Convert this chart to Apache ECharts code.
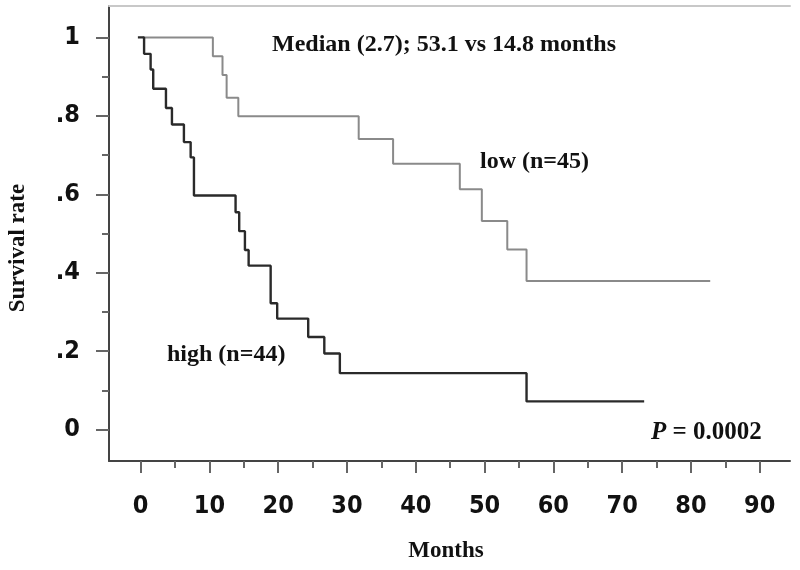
<!DOCTYPE html>
<html>
<head>
<meta charset="utf-8">
<script src="https://cdn.jsdelivr.net/npm/echarts@6/dist/echarts.min.js"></script>
<style>
html,body{margin:0;padding:0;background:#fff;}
#chart{width:800px;height:570px;}
</style>
</head>
<body>
<div id="chart"></div>
<script>
// Kaplan-Meier data (months, survival probability)
const lowTimes = [0.3, 10.5, 11.9, 12.5, 14.2, 31.7, 36.7, 46.4, 49.6, 53.3, 56.1, 82.8];
const lowSurv  = [1.0, 0.952, 0.904, 0.846, 0.799, 0.741, 0.678, 0.613, 0.532, 0.459, 0.379, 0.379];
const highTimes = [-0.4, 0.5, 1.45, 1.83, 3.68, 4.55, 6.29, 7.27, 7.75, 13.8, 14.33, 15.16, 15.7, 18.9, 19.85, 24.36, 26.7, 28.96, 56.1, 73.2];
const highSurv  = [1.0, 0.958, 0.918, 0.869, 0.82, 0.778, 0.733, 0.694, 0.597, 0.554, 0.506, 0.458, 0.418, 0.322, 0.283, 0.236, 0.194, 0.144, 0.072, 0.072];

const xMajorTicks = [0, 10, 20, 30, 40, 50, 60, 70, 80, 90];
const xMinorTicks = [5, 15, 25, 35, 45, 55, 65, 75, 85];
const yMajorTicks = [0, 0.2, 0.4, 0.6, 0.8, 1];
const yMinorTicks = [0.1, 0.3, 0.5, 0.7, 0.9];
const yTickLabels = ['0', '.2', '.4', '.6', '.8', '1'];

const labels = {
  median: 'Median (2.7); 53.1 vs 14.8 months',
  low: 'low (n=45)',
  high: 'high (n=44)',
  pLetter: 'P',
  pValue: ' = 0.0002',
  xName: 'Months',
  yName: 'Survival rate'
};

const chart = echarts.init(document.getElementById('chart'), null, {renderer: 'canvas'});
const serif = '"Liberation Serif", "Times New Roman", serif';
const sans = '"DejaVu Sans Condensed", "DejaVu Sans", sans-serif';
const X_MIN = -4.6, X_MAX = 94.4, Y_MIN = -0.08, Y_MAX = 1.08;

const option = {
  animation: false,
  backgroundColor: '#ffffff',
  grid: {left: 109, top: 6, right: 10, bottom: 109, containLabel: false},
  xAxis: [
    {
      type: 'value', min: X_MIN, max: X_MAX, position: 'bottom',
      axisLine: {show: true, onZero: false, lineStyle: {color: '#444', width: 2}},
      axisTick: {show: true, customValues: xMajorTicks, length: 12, lineStyle: {color: '#666', width: 2}},
      axisLabel: {customValues: xMajorTicks, margin: 33, color: '#111', fontSize: 25, fontFamily: sans, fontWeight: 'bold'},
      splitLine: {show: false}
    },
    {
      type: 'value', min: X_MIN, max: X_MAX, position: 'bottom',
      axisLine: {show: false, onZero: false},
      axisTick: {show: true, customValues: xMinorTicks, length: 7, lineStyle: {color: '#666', width: 2}},
      axisLabel: {show: false},
      splitLine: {show: false}
    },
    {
      type: 'value', min: X_MIN, max: X_MAX, position: 'top',
      axisLine: {show: true, onZero: false, lineStyle: {color: '#c8c8c8', width: 2}},
      axisTick: {show: false}, axisLabel: {show: false}, splitLine: {show: false}
    }
  ],
  yAxis: [
    {
      type: 'value', min: Y_MIN, max: Y_MAX, position: 'left',
      axisLine: {show: true, onZero: false, lineStyle: {color: '#444', width: 2}},
      axisTick: {show: true, customValues: yMajorTicks, length: 13, lineStyle: {color: '#666', width: 2}},
      axisLabel: {
        customValues: yMajorTicks, margin: 29, color: '#111', fontSize: 25, fontFamily: sans, fontWeight: 'bold',
        formatter: function (v) {
          const i = yMajorTicks.findIndex(t => Math.abs(t - v) < 1e-6);
          return i >= 0 ? yTickLabels[i] : '';
        }
      },
      splitLine: {show: false}
    },
    {
      type: 'value', min: Y_MIN, max: Y_MAX, position: 'left',
      axisLine: {show: false, onZero: false},
      axisTick: {show: true, customValues: yMinorTicks, length: 7, lineStyle: {color: '#666', width: 2}},
      axisLabel: {show: false},
      splitLine: {show: false}
    }
  ],
  series: [
    {
      name: 'low', type: 'line', step: 'end', symbol: 'none',
      xAxisIndex: 0, yAxisIndex: 0,
      lineStyle: {color: '#8a8a8a', width: 2},
      data: lowTimes.map((t, i) => [t, lowSurv[i]])
    },
    {
      name: 'high', type: 'line', step: 'end', symbol: 'none',
      xAxisIndex: 0, yAxisIndex: 0,
      lineStyle: {color: '#2a2a2a', width: 2.4},
      data: highTimes.map((t, i) => [t, highSurv[i]])
    }
  ],
  graphic: [
    {type: 'text', left: 272, top: 33, style: {text: labels.median, font: 'bold 24px ' + serif, fill: '#111'}},
    {type: 'text', left: 480, top: 150, style: {text: labels.low, font: 'bold 24px ' + serif, fill: '#111'}},
    {type: 'text', left: 167, top: 343, style: {text: labels.high, font: 'bold 24px ' + serif, fill: '#111'}},
    {type: 'text', left: 651, top: 420, style: {
      text: '{p|' + labels.pLetter + '}{v|' + labels.pValue + '}',
      rich: {p: {font: 'italic bold 25px ' + serif, fill: '#111'}, v: {font: 'bold 25px ' + serif, fill: '#111'}}
    }},
    {type: 'text', x: 446, y: 551, style: {text: labels.xName, font: 'bold 23px ' + serif, fill: '#111', align: 'center', verticalAlign: 'middle'}},
    {type: 'text', x: 18, y: 248, rotation: Math.PI / 2, style: {text: labels.yName, font: 'bold 23px ' + serif, fill: '#111', align: 'center', verticalAlign: 'middle'}}
  ]
};
chart.setOption(option);
</script>
</body>
</html>
